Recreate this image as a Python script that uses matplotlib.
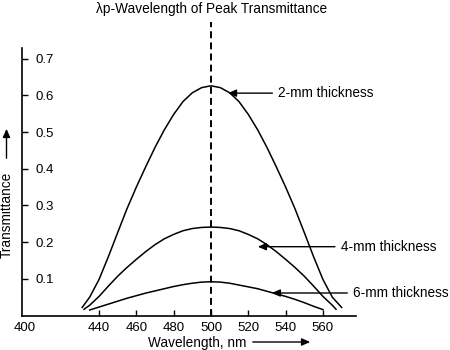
import matplotlib
matplotlib.use("Agg")
import matplotlib.pyplot as plt
from matplotlib.patches import FancyArrowPatch

plt.rcParams['font.family'] = ['Liberation Sans', 'DejaVu Sans']
plt.rcParams['lines.scale_dashes'] = False

# ---- data ----
wl_2mm = [431, 435, 440, 445, 450, 455, 460, 465, 470, 475, 480, 485, 490, 495, 500,
          505, 510, 515, 520, 525, 530, 535, 540, 545, 550, 555, 560, 565, 570]
t_2mm = [0.022, 0.05, 0.098, 0.16, 0.226, 0.291, 0.350, 0.405, 0.458, 0.506, 0.548, 0.583, 0.607, 0.621, 0.626,
         0.621, 0.607, 0.583, 0.548, 0.506, 0.458, 0.405, 0.350, 0.291, 0.226, 0.16, 0.098, 0.05, 0.022]

wl_4mm = [432, 435, 440, 445, 450, 455, 460, 465, 470, 475, 480, 485, 490, 495, 500,
          505, 510, 515, 520, 525, 530, 535, 540, 545, 550, 555, 560, 565, 567]
t_4mm = [0.017, 0.028, 0.052, 0.080, 0.107, 0.131, 0.153, 0.174, 0.193, 0.209, 0.221, 0.231, 0.237, 0.240, 0.241,
         0.240, 0.237, 0.231, 0.221, 0.209, 0.193, 0.174, 0.153, 0.131, 0.107, 0.080, 0.052, 0.028, 0.017]

wl_6mm = [435, 440, 445, 450, 455, 460, 465, 470, 475, 480, 485, 490, 495, 500,
          505, 510, 515, 520, 525, 530, 535, 540, 545, 550, 555, 560]
t_6mm = [0.015, 0.023, 0.031, 0.039, 0.047, 0.054, 0.061, 0.067, 0.073, 0.079, 0.084, 0.088, 0.091, 0.092,
         0.091, 0.088, 0.083, 0.078, 0.073, 0.066, 0.059, 0.052, 0.044, 0.035, 0.025, 0.016]

peak_wl = 500
x_ticks = [400, 440, 460, 480, 500, 520, 540, 560]
y_ticks = [0.1, 0.2, 0.3, 0.4, 0.5, 0.6, 0.7]
labels = ['2-mm thickness', '4-mm thickness', '6-mm thickness']

W, H = 450, 350
fig = plt.figure(figsize=(4.5, 3.5), dpi=100)
ax = fig.add_axes([22.3 / W, 1 - 315.5 / H, (356 - 22.3) / W, (315.5 - 48) / H])

fs = 9.8
tfs = 9.5
for wl, t in [(wl_2mm, t_2mm), (wl_4mm, t_4mm), (wl_6mm, t_6mm)]:
    ax.plot(wl, t, color='black', lw=1.1, solid_joinstyle='round')

ax.plot([peak_wl, peak_wl], [0, 0.80], color='black', lw=1.4, dashes=(5, 3), clip_on=False)

ax.set_xlim(398.9, 577.7)
ax.set_ylim(0, 0.729)
for s in ['top', 'right']:
    ax.spines[s].set_visible(False)
for s in ['left', 'bottom']:
    ax.spines[s].set_linewidth(1.2)

ax.set_xticks(x_ticks)
ax.set_xticklabels([str(v) for v in x_ticks], fontsize=tfs)
ax.set_yticks(y_ticks)
ax.set_yticklabels([f'{v:.1f}' for v in y_ticks], fontsize=tfs)
ax.tick_params(axis='x', direction='in', length=4.5, width=1.0, pad=4.5)
ax.tick_params(axis='y', direction='in', length=4.5, width=1.0, pad=-9.4)
for lab in ax.get_yticklabels():
    lab.set_horizontalalignment('left')
ax.xaxis.get_major_ticks()[0].tick1line.set_visible(False)

# annotations
ann = [(labels[0], (509.1, 0.606), (535.9, 0.606)),
       (labels[1], (525.1, 0.1875), (569.4, 0.1875)),
       (labels[2], (532.6, 0.0613), (576.0, 0.0613))]
for txt, xy, xyt in ann:
    ax.annotate(txt, xy=xy, xytext=xyt, ha='left', va='center', fontsize=fs,
                annotation_clip=False,
                arrowprops=dict(arrowstyle='-|>,head_length=0.5,head_width=0.22',
                                color='black', lw=1.0, shrinkA=2, shrinkB=0))

# title
fig.text(212 / W, 1 - 9 / H, 'λp-Wavelength of Peak Transmittance', ha='center', va='center', fontsize=fs)

# axis labels with arrows
fig.text(197.5 / W, 1 - 347 / H, 'Wavelength, nm', ha='center', va='baseline', fontsize=fs)
fig.add_artist(FancyArrowPatch((250 / W, 1 - 342 / H), (313 / W, 1 - 342 / H), transform=fig.transFigure,
                               arrowstyle='-|>,head_length=0.5,head_width=0.22', mutation_scale=10,
                               color='black', lw=1.0))
fig.text(6.5 / W, 1 - 215 / H, 'Transmittance', ha='center', va='center', rotation=90, fontsize=fs)
fig.add_artist(FancyArrowPatch((6.5 / W, 1 - 161 / H), (6.5 / W, 1 - 126 / H), transform=fig.transFigure,
                               arrowstyle='-|>,head_length=0.5,head_width=0.22', mutation_scale=10,
                               color='black', lw=1.0))

fig.savefig('out.png', dpi=100)
